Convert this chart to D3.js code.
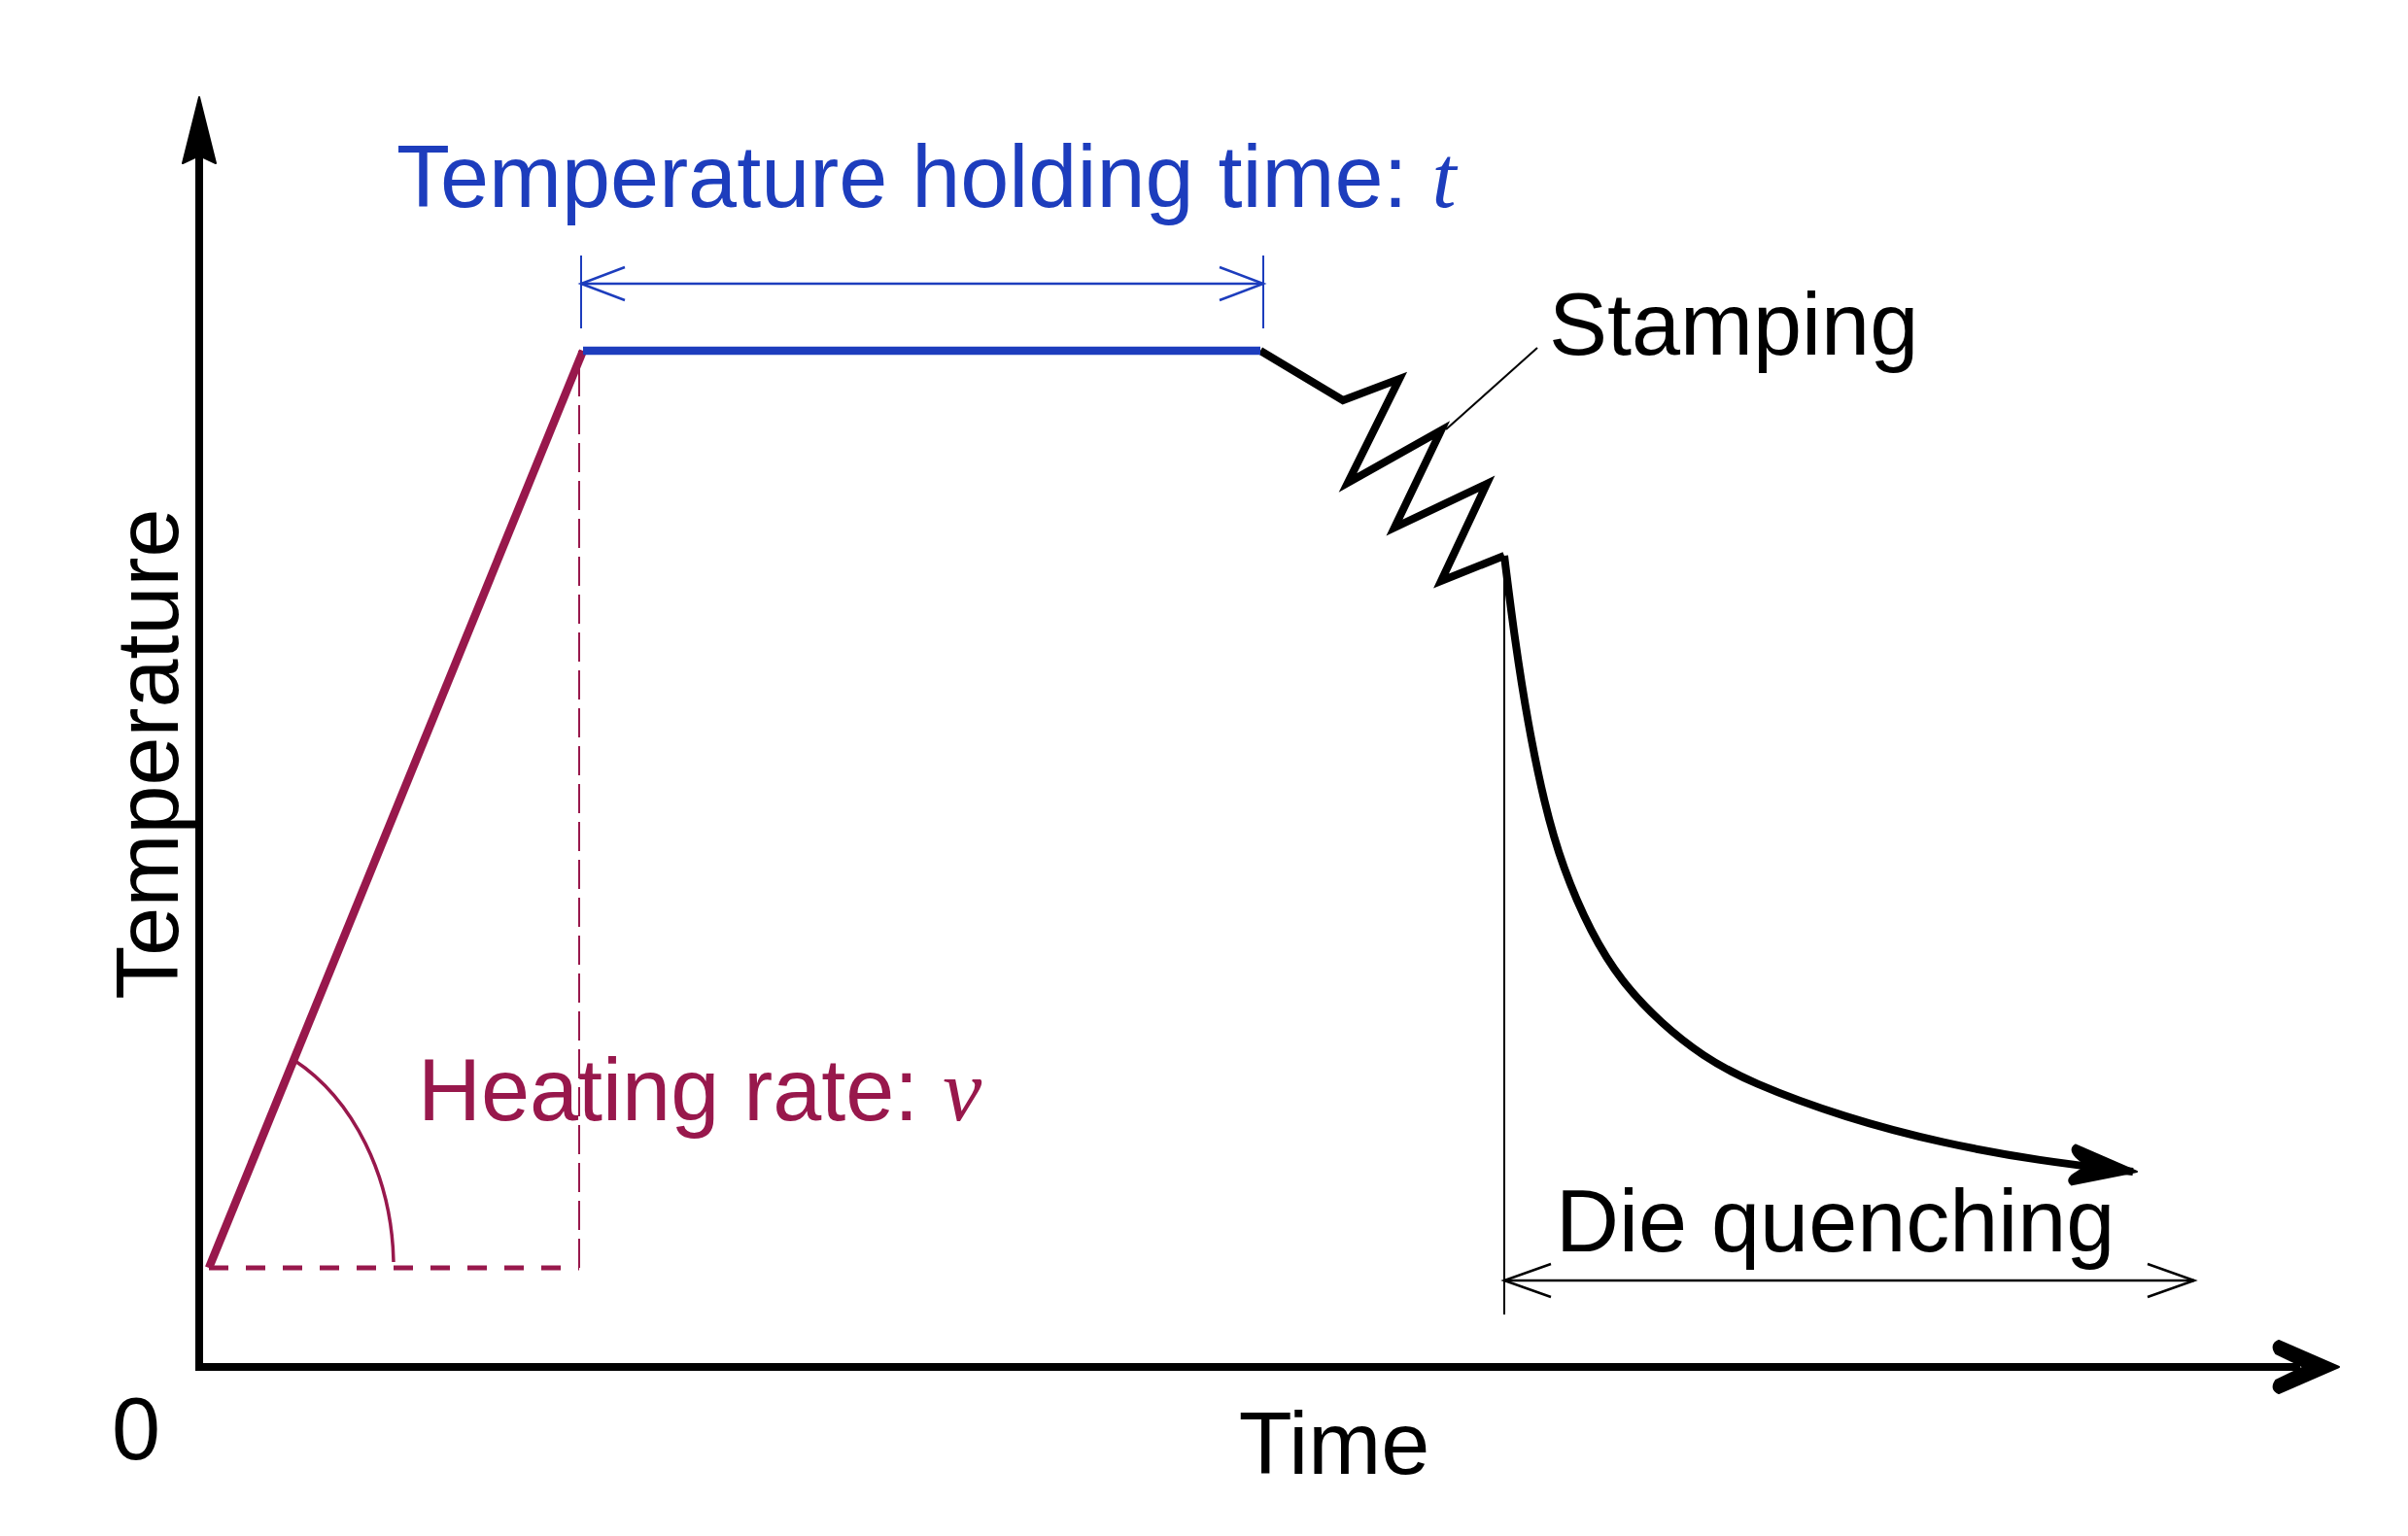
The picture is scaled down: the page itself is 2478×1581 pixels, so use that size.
<!DOCTYPE html>
<html>
<head>
<meta charset="utf-8">
<script src="https://cdn.jsdelivr.net/npm/d3@7"></script>
<style>
  html, body { margin: 0; padding: 0; background: #ffffff; }
  svg { display: block; }
</style>
</head>
<body>
<svg id="chart" width="2478" height="1581"></svg>
<script>
// ---------------- data (schematic units: time / temperature) ----------------
const timeExtent = [0, 2202];
const tempExtent = [0, 1307];

const heatingTime  = [10, 395];
const heatingTemp  = [102, 1046];

const holdingTime  = [395, 1092];
const holdingTemp  = [1046, 1046];

const stampingTime = [1092, 1177, 1235, 1182, 1278, 1230, 1325, 1278, 1343];
const stampingTemp = [1046, 995, 1017, 910, 964, 864, 909, 809, 835];

const quenchTime   = [1343, 1354, 1367, 1384, 1403, 1432, 1463, 1505, 1547, 1595, 1695, 1795, 1895, 1990];
const quenchTemp   = [835, 747, 664, 580, 514, 447, 397, 353, 320, 293, 256, 230, 212, 201];

// annotation anchors (data units)
const holdDimTime   = [393, 1095];   // holding-time dimension
const holdDimTemp   = 1115;
const holdTickTemp  = [1069, 1144];
const quenchDimTime = [1343, 2053];  // die quenching dimension
const quenchDimTemp = 89;
const quenchTickTemp = [54, 835];
const leaderTime    = [1283, 1377];  // stamping leader line
const leaderTemp    = [965, 1049];
const angleRadius   = [190, 241];    // heating-rate angle arc (time, temp)

const axisLabels = ["Time", "Temperature", "0"];
const annotationLabels = ["Temperature holding time: ", "t", "Heating rate: ", "v", "Stamping", "Die quenching"];

// ---------------- setup ----------------
const RED = "#98184c";
const BLUE = "#1d3dbd";
const SANS = "'Liberation Sans', Arial, Helvetica, sans-serif";
const SERIF = "'Liberation Serif', 'Times New Roman', serif";
const FS = 90;

const svg = d3.select("#chart");
svg.append("rect").attr("width", 2478).attr("height", 1581).attr("fill", "#fff");

const x = d3.scaleLinear().domain(timeExtent).range([205, 2407]);
const y = d3.scaleLinear().domain(tempExtent).range([1407, 100]);

const zip = (a, b) => a.map((v, i) => [v, b[i]]);
const lineLin = d3.line().x(d => x(d[0])).y(d => y(d[1]));
const lineCurve = d3.line().x(d => x(d[0])).y(d => y(d[1])).curve(d3.curveBasis);

const g = svg.append("g");

// ---------------- axes ----------------
g.append("line")
  .attr("x1", x(0)).attr("y1", y(0)).attr("x2", x(0)).attr("y2", y(tempExtent[1]) + 40)
  .attr("stroke", "#000").attr("stroke-width", 8);
g.append("line")
  .attr("x1", x(0) - 4).attr("y1", y(0)).attr("x2", x(timeExtent[1]) - 40).attr("y2", y(0))
  .attr("stroke", "#000").attr("stroke-width", 8);
// y arrow head (narrow filled)
g.append("path")
  .attr("transform", `translate(${x(0)},${y(tempExtent[1])})`)
  .attr("d", "M0,0 L17,68 L0,60 L-17,68 Z")
  .attr("fill", "#000").attr("stroke", "#000").attr("stroke-width", 2).attr("stroke-linejoin", "round");
// x arrow head (thick chevron)
g.append("path")
  .attr("transform", `translate(${x(timeExtent[1])},${y(0)})`)
  .attr("d", "M0,0 L-62,-27 Q-71,-23 -65,-14 L-36,0 L-65,14 Q-71,23 -62,27 Z")
  .attr("fill", "#000").attr("stroke", "#000").attr("stroke-width", 2).attr("stroke-linejoin", "round");

// axis labels
g.append("text")
  .attr("x", x(0) - 65).attr("y", y(0) + 95)
  .attr("text-anchor", "middle")
  .attr("font-family", SANS).attr("font-size", FS).attr("fill", "#000")
  .text(axisLabels[2]);
g.append("text")
  .attr("x", 1373).attr("y", y(0) + 110)
  .attr("text-anchor", "middle")
  .attr("font-family", SANS).attr("font-size", FS).attr("fill", "#000")
  .text(axisLabels[0]);
g.append("text")
  .attr("transform", `translate(${x(0) - 22},${776}) rotate(-90)`)
  .attr("text-anchor", "middle")
  .attr("font-family", SANS).attr("font-size", FS).attr("fill", "#000")
  .text(axisLabels[1]);

// ---------------- heating guides (dashed) ----------------
g.append("line")
  .attr("x1", x(heatingTime[0])).attr("y1", y(heatingTemp[0]))
  .attr("x2", x(heatingTime[1]) - 4).attr("y2", y(heatingTemp[0]))
  .attr("stroke", RED).attr("stroke-width", 5).attr("stroke-dasharray", "20,18");
g.append("line")
  .attr("x1", x(heatingTime[1]) - 4).attr("y1", y(heatingTemp[0]))
  .attr("x2", x(heatingTime[1]) - 4).attr("y2", y(heatingTemp[1]))
  .attr("stroke", RED).attr("stroke-width", 2).attr("stroke-dasharray", "30,9");

// heating-rate angle arc (ellipse centred at heating start)
{
  const cx = x(heatingTime[0]), cy = y(heatingTemp[0]);
  const rx = x(angleRadius[0]) - x(0), ry = y(0) - y(angleRadius[1]);
  const dxl = x(heatingTime[1]) - cx, dyl = cy - y(heatingTemp[1]);
  const th = Math.atan2(dyl / ry, dxl / rx);
  const sx = cx + rx * Math.cos(th), sy = cy - ry * Math.sin(th);
  g.append("path")
    .attr("d", `M${sx},${sy} A${rx},${ry} 0 0 1 ${cx + rx},${cy - 6}`)
    .attr("fill", "none").attr("stroke", RED).attr("stroke-width", 3.5);
}

// ---------------- process curve ----------------
g.append("path")
  .attr("d", lineLin(zip(heatingTime, heatingTemp)))
  .attr("fill", "none").attr("stroke", RED).attr("stroke-width", 8.5);

g.append("path")
  .attr("d", lineLin(zip(stampingTime, stampingTemp)))
  .attr("fill", "none").attr("stroke", "#000").attr("stroke-width", 8)
  .attr("stroke-linejoin", "miter").attr("stroke-miterlimit", 10);

g.append("path")
  .attr("d", lineCurve(zip(quenchTime, quenchTemp)))
  .attr("fill", "none").attr("stroke", "#000").attr("stroke-width", 8);

g.append("path")
  .attr("d", lineLin(zip(holdingTime, holdingTemp)))
  .attr("fill", "none").attr("stroke", BLUE).attr("stroke-width", 8.5);

// quench arrow head
{
  const n = quenchTime.length;
  const tx = x(quenchTime[n - 1]), ty = y(quenchTemp[n - 1]);
  const px = x(quenchTime[n - 2]), py = y(quenchTemp[n - 2]);
  const ang = Math.atan2(ty - py, tx - px) * 180 / Math.PI;
  g.append("path")
    .attr("transform", `translate(${tx + 4},${ty}) rotate(${ang})`)
    .attr("d", "M0,0 L-66,-20 Q-72,-15 -64,-8 L-52,0 L-64,10 Q-72,17 -65,21 Z")
    .attr("fill", "#000").attr("stroke", "#000").attr("stroke-width", 2).attr("stroke-linejoin", "round");
}

// ---------------- annotations ----------------
function openArrow(tx, ty, dir, len, hw, color, w) {
  g.append("path")
    .attr("d", `M${tx - dir * len},${ty - hw} L${tx},${ty} L${tx - dir * len},${ty + hw}`)
    .attr("fill", "none").attr("stroke", color).attr("stroke-width", w);
}

// holding time dimension
[holdDimTime[0], holdDimTime[1]].forEach(t => {
  g.append("line")
    .attr("x1", x(t)).attr("x2", x(t))
    .attr("y1", y(holdTickTemp[0])).attr("y2", y(holdTickTemp[1]))
    .attr("stroke", BLUE).attr("stroke-width", 2);
});
g.append("line")
  .attr("x1", x(holdDimTime[0])).attr("x2", x(holdDimTime[1]))
  .attr("y1", y(holdDimTemp)).attr("y2", y(holdDimTemp))
  .attr("stroke", BLUE).attr("stroke-width", 2.5);
openArrow(x(holdDimTime[0]), y(holdDimTemp), -1, 45, 17, BLUE, 2.5);
openArrow(x(holdDimTime[1]), y(holdDimTemp), 1, 45, 17, BLUE, 2.5);

const t1 = g.append("text")
  .attr("x", 408).attr("y", 213)
  .attr("font-family", SANS).attr("font-size", 90).attr("fill", BLUE);
t1.append("tspan").text(annotationLabels[0]);
t1.append("tspan").attr("font-family", SERIF).attr("font-style", "italic").text(annotationLabels[1]);

// heating rate label
const t2 = g.append("text")
  .attr("x", 430).attr("y", 1153)
  .attr("font-family", SANS).attr("font-size", FS).attr("fill", RED);
t2.append("tspan").text(annotationLabels[2]);
t2.append("tspan").attr("font-family", SERIF).attr("font-style", "italic").text(annotationLabels[3]);

// stamping leader + label
g.append("line")
  .attr("x1", x(leaderTime[0])).attr("y1", y(leaderTemp[0]))
  .attr("x2", x(leaderTime[1])).attr("y2", y(leaderTemp[1]))
  .attr("stroke", "#000").attr("stroke-width", 2);
g.append("text")
  .attr("x", 1594).attr("y", 365)
  .attr("font-family", SANS).attr("font-size", FS).attr("fill", "#000")
  .text(annotationLabels[4]);

// die quenching dimension
g.append("line")
  .attr("x1", x(quenchDimTime[0])).attr("x2", x(quenchDimTime[0]))
  .attr("y1", y(quenchTickTemp[1])).attr("y2", y(quenchTickTemp[0]))
  .attr("stroke", "#000").attr("stroke-width", 2);
g.append("line")
  .attr("x1", x(quenchDimTime[0])).attr("x2", x(quenchDimTime[1]))
  .attr("y1", y(quenchDimTemp)).attr("y2", y(quenchDimTemp))
  .attr("stroke", "#000").attr("stroke-width", 2.5);
openArrow(x(quenchDimTime[0]), y(quenchDimTemp), -1, 48, 17, "#000", 2.5);
openArrow(x(quenchDimTime[1]), y(quenchDimTemp), 1, 48, 17, "#000", 2.5);
g.append("text")
  .attr("x", 1601).attr("y", 1288)
  .attr("font-family", SANS).attr("font-size", FS).attr("fill", "#000")
  .text(annotationLabels[5]);
</script>
</body>
</html>
